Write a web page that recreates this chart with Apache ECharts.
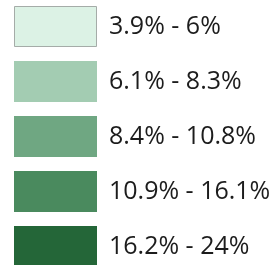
<!DOCTYPE html>
<html>
<head>
<meta charset="utf-8">
<script src="https://cdn.jsdelivr.net/npm/echarts@6/dist/echarts.min.js"></script>
<style>
  html, body { margin: 0; padding: 0; background: #fff; }
  #chart { width: 279px; height: 265px; }
</style>
</head>
<body>
<div id="chart"></div>
<script>
// legend classes
const classLabels = ['3.9% - 6%', '6.1% - 8.3%', '8.4% - 10.8%', '10.9% - 16.1%', '16.2% - 24%'];
const classColors = ['#dcf2e5', '#a3ccb2', '#6fa782', '#4a8a5e', '#246638'];
const swatchValues = [1, 1, 1, 1, 1];

const chart = echarts.init(document.getElementById('chart'));

chart.setOption({
    animation: false,
    grid: { left: 14, top: -1, width: 83, height: 275, containLabel: false, outerBoundsMode: 'none' },
    xAxis: { type: 'value', min: 0, max: 1, show: false },
    yAxis: { type: 'category', data: classLabels, inverse: true, show: false },
    series: [{
        type: 'bar',
        barWidth: 41,
        data: swatchValues.map((v, i) => ({
            value: v,
            itemStyle: {
                color: classColors[i],
                borderColor: i === 0 ? '#a5aca8' : classColors[i],
                borderWidth: i === 0 ? 1 : 0
            }
        })),
        label: {
            show: true,
            position: 'right',
            distance: 12,
            formatter: p => classLabels[p.dataIndex],
            fontFamily: 'Open Sans',
            fontSize: 25,
            color: '#1c1c1c'
        }
    }]
});
</script>
</body>
</html>
